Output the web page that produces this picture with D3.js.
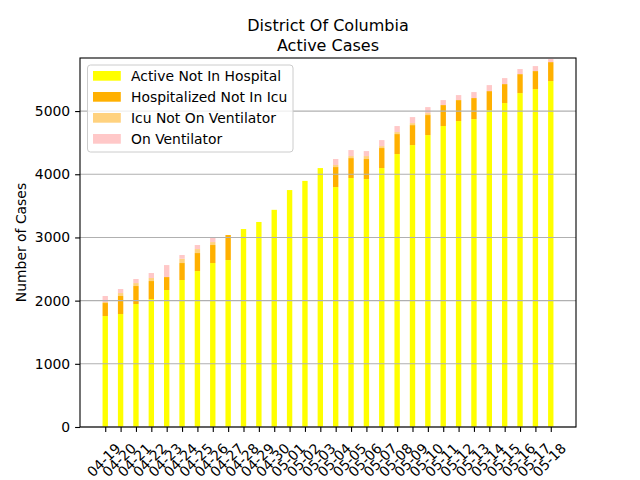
<!DOCTYPE html>
<html>
<head>
<meta charset="utf-8">
<script src="https://cdn.jsdelivr.net/npm/d3@7"></script>
<style>
  html, body { margin: 0; padding: 0; background: #fff; }
  svg { display: block; font-family: "DejaVu Sans", sans-serif; }
</style>
</head>
<body>
<svg id="chart" width="640" height="480"></svg>
<script>
const dates = ["04-19","04-20","04-21","04-22","04-23","04-24","04-25","04-26","04-27","04-28",
               "04-29","04-30","05-01","05-02","05-03","05-04","05-05","05-06","05-07","05-08",
               "05-09","05-10","05-11","05-12","05-13","05-14","05-15","05-16","05-17","05-18"];
const activeNotInHospital = [1756,1788,1946,2025,2168,2326,2468,2595,2642,3133,
                             3245,3437,3750,3895,4098,3797,3940,3924,4098,4320,
                             4462,4620,4763,4842,4873,5016,5127,5285,5348,5475];
const hospitalizedNotInIcu = [206,285,285,285,205,269,285,285,396,0,
                              0,0,0,0,0,317,316,317,317,316,
                              316,317,332,332,333,300,300,300,285,300];
const icuNotOnVentilator = [16,47,47,48,0,68,63,47,0,0,
                            0,0,0,0,0,32,32,47,31,32,
                            32,31,0,0,0,0,0,0,0,0];
const onVentilator = [95,64,64,79,190,59,64,79,0,0,
                      0,0,0,0,0,95,95,79,95,95,
                      95,95,79,79,95,95,95,80,79,48];
const seriesNames = ["Active Not In Hospital","Hospitalized Not In Icu","Icu Not On Ventilator","On Ventilator"];
const yTicks = [0,1000,2000,3000,4000,5000];
const yMax = 5840;
const titleLines = ["District Of Columbia", "Active Cases"];

const colors = ["#ffff00","#ffb000","#ffd27f","#ffc8c8"];
const seriesArrays = [activeNotInHospital, hospitalizedNotInIcu, icuNotOnVentilator, onVentilator];

const rows = dates.map((d, i) => {
  const r = { idx: i, date: d };
  seriesNames.forEach((n, k) => r[n] = seriesArrays[k][i]);
  return r;
});

const svg = d3.select("#chart");
const L = 80, R = 576, T = 58, B = 427;
const barW = 0.35;
const n = dates.length;
const pad = 0.05 * ((n - 1) + barW);
const x = d3.scaleLinear().domain([-barW/2 - pad, (n - 1) + barW/2 + pad]).range([L, R]);
const y = d3.scaleLinear().domain([0, yMax]).range([B, T]);

const stack = d3.stack().keys(seriesNames)(rows);

// bars
const g = svg.append("g");
stack.forEach((layer, k) => {
  g.selectAll(null).data(layer).enter().append("rect")
    .attr("x", d => x(d.data.idx - barW/2))
    .attr("width", d => x(d.data.idx + barW/2) - x(d.data.idx - barW/2))
    .attr("y", d => y(d[1]))
    .attr("height", d => Math.max(0, y(d[0]) - y(d[1])))
    .attr("fill", colors[k]);
});

// grid (drawn over bars like matplotlib)
svg.append("g").selectAll("line").data(yTicks).enter().append("line")
  .attr("x1", L).attr("x2", R)
  .attr("y1", d => y(d)).attr("y2", d => y(d))
  .attr("stroke", "#b0b0b0").attr("stroke-width", 1.1);

// y axis
const yAxis = d3.axisLeft(y).tickValues(yTicks).tickSize(4.9).tickPadding(4.9).tickFormat(d3.format("d"));
const ya = svg.append("g").attr("transform", `translate(${L},0)`).call(yAxis);
ya.select(".domain").remove();
ya.selectAll(".tick line").attr("stroke", "#000").attr("stroke-width", 1.1);
ya.selectAll(".tick text").attr("font-size", "13.9px").attr("fill", "#000")
  .attr("font-family", "DejaVu Sans");

// x axis
const xAxis = d3.axisBottom(x).tickValues(d3.range(n)).tickSize(4.9).tickFormat(i => dates[i]);
const xa = svg.append("g").attr("transform", `translate(0,${B})`).call(xAxis);
xa.select(".domain").remove();
xa.selectAll(".tick line").attr("stroke", "#000").attr("stroke-width", 1.1);
xa.selectAll(".tick text")
  .attr("font-size", "13.9px").attr("fill", "#000").attr("font-family", "DejaVu Sans")
  .attr("text-anchor", "middle").attr("dominant-baseline", "central")
  .attr("y", 0).attr("dy", null)
  .attr("transform", "translate(-2,33) rotate(-45)");

// frame
svg.append("rect").attr("x", L).attr("y", T).attr("width", R - L).attr("height", B - T)
  .attr("fill", "none").attr("stroke", "#000").attr("stroke-width", 1.1);

// title (two lines)
const cx = (L + R) / 2;
titleLines.forEach((t, i) => {
  svg.append("text").attr("x", cx).attr("y", 31 + i * 19.5).attr("text-anchor", "middle")
    .attr("font-size", "16px").attr("fill", "#000").text(t);
});

// y label
svg.append("text").attr("transform", `translate(26,${(T + B) / 2}) rotate(-90)`)
  .attr("text-anchor", "middle").attr("font-size", "13.9px").attr("fill", "#000")
  .text("Number of Cases");

// legend
const lg = svg.append("g");
lg.append("rect").attr("x", 87.5).attr("y", 65).attr("width", 205.5).attr("height", 87)
  .attr("rx", 3).attr("fill", "#fff").attr("fill-opacity", 0.8)
  .attr("stroke", "#cccccc").attr("stroke-width", 1);
seriesNames.forEach((name, k) => {
  const cy = 76 + k * 21;
  lg.append("rect").attr("x", 93).attr("y", cy - 5).attr("width", 27.8).attr("height", 9.7)
    .attr("fill", colors[k]);
  lg.append("text").attr("x", 131).attr("y", cy + 5).attr("font-size", "13.9px")
    .attr("fill", "#000").text(name);
});
</script>
</body>
</html>
